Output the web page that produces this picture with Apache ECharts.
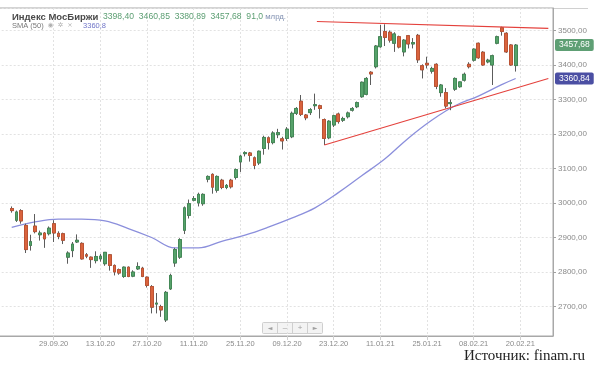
<!DOCTYPE html>
<html>
<head>
<meta charset="utf-8">
<script src="https://cdn.jsdelivr.net/npm/echarts@6/dist/echarts.min.js"></script>
<style>
html,body{margin:0;padding:0;background:#fff;}
#c{width:600px;height:366px;}
</style>
</head>
<body>
<div id="c"></div>
<script>
// ---- data ----
const opens = [2984,2950,2978,2935,2877,2933,2908,2913,2911,2940,2912,2911,2843,2862,2887,2883,2850,2843,2833,2838,
2824,2850,2819,2807,2787,2814,2788,2809,2811,2785,2758,2707,2700,2661,2751,2826,2843,2921,2964,3008,
3000,2998,3069,3083,3037,3066,3045,3066,3074,3119,3143,3145,3131,3116,3158,3189,3175,3198,3186,3187,
3192,3260,3295,3255,3262,3282,3282,3242,3189,3226,3258,3240,3250,3269,3279,3308,3315,3379,3395,3453,
3497,3495,3463,3482,3438,3485,3461,3486,3398,3405,3382,3402,3320,3320,3288,3330,3337,3356,3402,3414,
3463,3437,3409,3400,3463,3508,3492,3458,3398.40];
const closes = [2978,2974,2948,2865,2888,2917,2913,2896,2927,2913,2903,2892,2855,2881,2892,2838,2846,2836,2845,2846,
2857,2819,2800,2797,2814,2787,2800,2816,2787,2761,2698,2710,2690,2741,2790,2865,2894,2986,2998,3013,
3025,3025,3077,3046,3077,3045,3051,3047,3097,3136,3146,3138,3109,3150,3190,3175,3203,3204,3180,3214,
3260,3274,3257,3247,3271,3285,3274,3187,3237,3253,3236,3245,3261,3274,3291,3350,3361,3374,3455,3482,
3480,3472,3490,3452,3472,3461,3465,3415,3386,3400,3390,3338,3342,3281,3291,3361,3351,3373,3395,3446,
3421,3400,3414,3427,3482,3497,3438,3400,3457.68];
const highs = [2990,2978,2982,2940,2908,2968,2920,2916,2932,2950,2918,2914,2860,2887,2909,2886,2855,2845,2860,2852,
2858,2852,2822,2810,2816,2816,2805,2828,2815,2787,2762,2739,2705,2745,2795,2870,2898,2990,3010,3020,
3030,3028,3080,3086,3080,3070,3055,3070,3100,3140,3150,3148,3135,3152,3195,3193,3208,3215,3192,3220,
3265,3278,3313,3258,3275,3317,3285,3245,3240,3256,3262,3250,3265,3278,3294,3352,3365,3382,3458,3516,
3518,3500,3495,3485,3475,3487,3478,3490,3402,3424,3395,3405,3345,3333,3300,3364,3352,3378,3408,3448,
3465,3440,3418,3430,3485,3511,3495,3460,3460.85];
const lows = [2972,2945,2940,2855,2862,2912,2891,2870,2906,2887,2895,2881,2824,2843,2884,2836,2840,2812,2825,2830,
2818,2804,2790,2792,2783,2785,2785,2806,2785,2755,2680,2680,2670,2655,2748,2815,2838,2910,2955,3005,
2990,2992,3060,3027,3030,3040,3040,3042,3068,3090,3135,3120,3098,3110,3140,3155,3170,3188,3155,3180,
3188,3255,3252,3240,3255,3270,3245,3168,3185,3220,3230,3235,3245,3265,3275,3305,3312,3342,3390,3450,
3455,3465,3438,3448,3425,3448,3448,3406,3361,3390,3375,3330,3308,3274,3269,3325,3334,3352,3390,3410,
3418,3398,3405,3342,3460,3485,3435,3398,3380.89];
const volumeBn = 91.0;

// SMA(50) read at sampled candles: [candle index, value]
const smaIdx = [0,5,10,15,20,25,30,35,40,45,50,55,60,65,70,75,80,85,90,95,100,105,108];
const smaVal = [2929,2945,2953,2953,2948,2926,2900,2870,2870,2889,2907,2930,2956,2986,3030,3079,3128,3188,3240,3282,3310,3343,3360.84];

// trend lines: [candle index, value]
const resistanceIdx = [65.4, 115];
const resistanceVal = [3526, 3506];
const supportIdx = [67, 115];
const supportVal = [3168, 3361];

// axis ticks
const tickLabels = ['29.09.20','13.10.20','27.10.20','11.11.20','25.11.20','09.12.20','23.12.20','11.01.21','25.01.21','08.02.21','20.02.21'];
const firstTickCandle = 9;
const tickStep = 10;
const yTicks = [2700,2800,2900,3000,3100,3200,3300,3400,3500];

// ---- build ----
const padBefore = 3, totalSlots = 120;
const n = opens.length;
const categories = [];
for (let j = 0; j < totalSlots; j++) {
  const i = j - padBefore;
  const k = (i - firstTickCandle) / tickStep;
  categories.push(i >= firstTickCandle && Number.isInteger(k) && k < tickLabels.length ? tickLabels[k] : '');
}
const full = [], bodies = [];
for (let j = 0; j < totalSlots; j++) {
  const i = j - padBefore;
  if (i >= 0 && i < n) {
    full.push([opens[i], closes[i], lows[i], highs[i]]);
    bodies.push([opens[i], closes[i], Math.min(opens[i], closes[i]), Math.max(opens[i], closes[i])]);
  } else { full.push('-'); bodies.push('-'); }
}
const sma = smaIdx.map((x, k) => [x, smaVal[k]]);
const fmt2 = v => v.toFixed(2).replace('.', ',');
const fmt1 = v => v.toFixed(1).replace('.', ',');
const last = n - 1;
const showTick = (idx, val) => val !== '';

const chart = echarts.init(document.getElementById('c'), null, {renderer: 'canvas'});
const FONT = '"Liberation Sans", Arial, sans-serif';
const hiddenLine = {color: 'rgba(0,0,0,0)', width: 0};
chart.setOption({
  animation: false,
  backgroundColor: '#ffffff',
  textStyle: {fontFamily: FONT},
  grid: {left: -2.3, right: 47, top: 8, bottom: 30, containLabel: false, outerBoundsMode: 'none',
         show: true, borderColor: '#a8a8a8', borderWidth: 1, backgroundColor: 'transparent'},
  xAxis: [{
    type: 'category', data: categories, boundaryGap: false,
    axisLine: {onZero: false, lineStyle: {color: '#a8a8a8', width: 1}},
    axisTick: {show: true, interval: showTick, length: 4, lineStyle: {color: '#cfcfcf'}},
    axisLabel: {interval: showTick, color: '#8a8a8a', fontSize: 7.5, margin: 4, fontFamily: FONT},
    splitLine: {show: true, interval: showTick, lineStyle: {color: '#e2e2e2', type: [2, 2]}}
  }, {
    type: 'value', min: -padBefore, max: totalSlots - 1 - padBefore, show: false,
    axisLine: {onZero: false}
  }],
  yAxis: {
    type: 'value', position: 'right', min: 2614.5, max: 3565.2, splitNumber: 10, scale: true,
    axisLine: {show: true, onZero: false, lineStyle: {color: '#a8a8a8'}},
    axisTick: {show: true, inside: false, length: 3, lineStyle: {color: '#a0a0a0'}},
    axisLabel: {color: '#8a8a8a', fontSize: 8, margin: 5, showMinLabel: false, showMaxLabel: false,
      formatter: v => yTicks.indexOf(v) >= 0 ? fmt2(v) : '', fontFamily: FONT},
    splitLine: {show: true, lineStyle: {color: '#e2e2e2', type: [2, 2]}}
  },
  series: [
    {
      type: 'line', xAxisIndex: 1, data: sma, smooth: 0.4, symbol: 'none', z: 3, clip: false,
      lineStyle: {color: '#8b8fdc', width: 1.3},
      markLine: {silent: true, symbol: 'none', data: [{yAxis: smaVal[smaVal.length - 1]}],
        lineStyle: hiddenLine, emphasis: {disabled: true},
        label: {show: true, position: 'end', formatter: p => fmt2(p.value), color: '#fff', backgroundColor: '#4b4fa3', opacity: 1,
          padding: [2, 4, 1, 4], fontSize: 8.5, borderRadius: 2, distance: 2, fontFamily: FONT}}
    },
    {
      type: 'candlestick', data: full, barWidth: 3.2, z: 4, clip: false,
      itemStyle: {color: '#5c5c5c', color0: '#5c5c5c', borderColor: '#5c5c5c', borderColor0: '#5c5c5c', borderWidth: 1}
    },
    {
      type: 'candlestick', data: bodies, barWidth: 3.2, z: 5, clip: false,
      itemStyle: {color: '#56a26a', color0: '#d9633d', borderColor: '#3f8c54', borderColor0: '#c4512f', borderWidth: 0.8},
      markLine: {silent: true, symbol: 'none', data: [{yAxis: closes[last]}],
        lineStyle: hiddenLine, emphasis: {disabled: true},
        label: {show: true, position: 'end', formatter: p => fmt2(p.value), color: '#fff', backgroundColor: '#5e9f74', opacity: 1,
          padding: [2, 4, 1, 4], fontSize: 8.5, borderRadius: 2, distance: 2, fontFamily: FONT}}
    },
    {
      type: 'line', xAxisIndex: 1, data: resistanceIdx.map((x, k) => [x, resistanceVal[k]]),
      symbol: 'none', z: 6, lineStyle: {color: '#e4413c', width: 1.1}
    },
    {
      type: 'line', xAxisIndex: 1, data: supportIdx.map((x, k) => [x, supportVal[k]]),
      symbol: 'none', z: 6, lineStyle: {color: '#e4413c', width: 1.1}
    }
  ],
  graphic: [
    {type: 'line', shape: {x1: 553, y1: 8.5, x2: 588, y2: 8.5}, style: {stroke: '#d0d0d0', lineWidth: 1}, silent: true},
    {type: 'text', x: 12, y: 17, z: 20, style: {
      text: '{n|Индекс МосБиржи}  {v|' + fmt2(opens[last]) + '}  {v|' + fmt2(highs[last]) + '}  {v|' + fmt2(lows[last]) + '}  {v|' + fmt2(closes[last]) + '}  {v|' + fmt1(volumeBn) + '}{u| млрд.}',
      verticalAlign: 'middle', font: '8.6px "Liberation Sans", Arial, sans-serif',
      rich: {
        n: {fontWeight: 'bold', fill: '#4a4a4a', fontSize: 9.5, fontFamily: 'Liberation Sans'},
        v: {fill: '#5b9e72', fontSize: 8.6, fontFamily: 'Liberation Sans'},
        u: {fill: '#7f8fb0', fontSize: 7.8, fontFamily: 'Liberation Sans'}
      }}},
    {type: 'text', x: 12, y: 25.5, z: 20, style: {
      text: '{s|SMA (50)}  {i|◉  ✲  ×}     {m|' + fmt1(smaVal[smaVal.length - 1]) + '}',
      verticalAlign: 'middle', font: '7.5px "Liberation Sans", Arial, sans-serif',
      rich: {
        s: {fill: '#777', fontSize: 7.5, fontFamily: 'Liberation Sans'},
        i: {fill: '#b0b0b0', fontSize: 6.5, fontFamily: 'DejaVu Sans'},
        m: {fill: '#7075c8', fontSize: 7.5, fontFamily: 'Liberation Sans'}
      }}},
    {type: 'group', left: 262, top: 320, children: [
      {type: 'rect', shape: {x: 0, y: 0, width: 60, height: 11, r: 1}, style: {fill: '#f3f3f3', stroke: '#cfcfcf'}},
      {type: 'line', shape: {x1: 15, y1: 0, x2: 15, y2: 11}, style: {stroke: '#cfcfcf'}},
      {type: 'line', shape: {x1: 30, y1: 0, x2: 30, y2: 11}, style: {stroke: '#cfcfcf'}},
      {type: 'line', shape: {x1: 45, y1: 0, x2: 45, y2: 11}, style: {stroke: '#cfcfcf'}},
      {type: 'text', style: {x: 7.5, y: 5.5, text: '◄', fill: '#a0a0a0', align: 'center', verticalAlign: 'middle', font: '6px "DejaVu Sans"'}},
      {type: 'text', style: {x: 22.5, y: 5.5, text: '–', fill: '#a0a0a0', align: 'center', verticalAlign: 'middle', font: '8px "Liberation Sans"'}},
      {type: 'text', style: {x: 37.5, y: 5.5, text: '+', fill: '#a0a0a0', align: 'center', verticalAlign: 'middle', font: '8px "Liberation Sans"'}},
      {type: 'text', style: {x: 52.5, y: 5.5, text: '►', fill: '#a0a0a0', align: 'center', verticalAlign: 'middle', font: '6px "DejaVu Sans"'}}
    ]},
    {type: 'text', right: 15, top: 349, style: {text: 'Источник: finam.ru', fill: '#222', font: '15px "Liberation Serif", "Times New Roman", serif'}}
  ]
});
</script>
</body>
</html>
